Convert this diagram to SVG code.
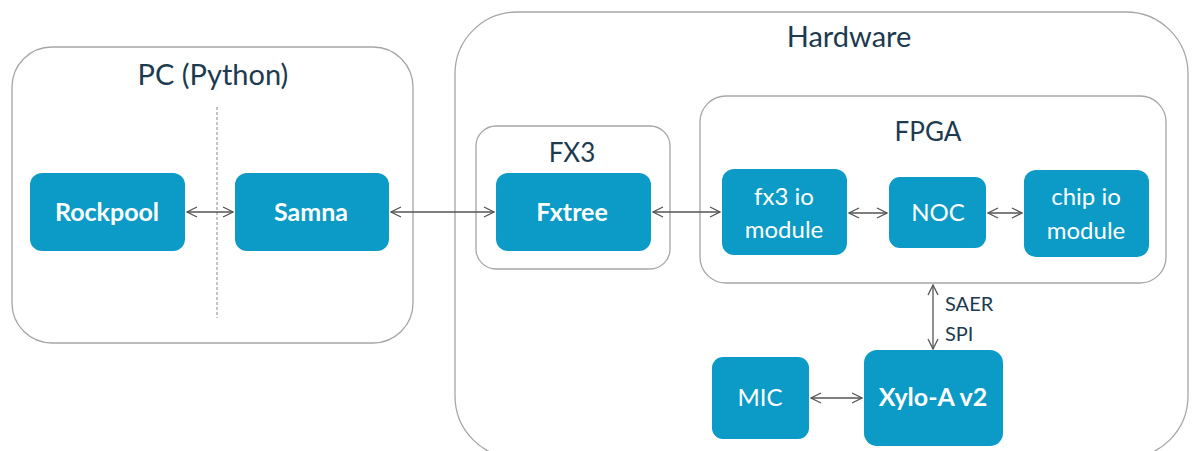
<svg xmlns="http://www.w3.org/2000/svg" width="1192" height="451" viewBox="0 0 1192 451">
<defs>
<style>
.cont{fill:#fff;stroke:#a6a6a6;stroke-width:1.3}
.blk{fill:#0b9bc6}
.title{font-family:Lato,"Liberation Sans",sans-serif;font-size:29px;fill:#1d3b4f;text-anchor:middle}
.sub{font-family:Lato,"Liberation Sans",sans-serif;font-size:26px;fill:#1d3b4f;text-anchor:middle}
.bt{font-family:Lato,"Liberation Sans",sans-serif;font-size:25px;font-weight:bold;fill:#fff;text-anchor:middle}
.nt{font-family:Lato,"Liberation Sans",sans-serif;font-size:24px;fill:#fff;text-anchor:middle}
.lbl{font-family:Lato,"Liberation Sans",sans-serif;font-size:20px;fill:#1d3b4f}
.conn{stroke:#555;stroke-width:1.3;fill:none;marker-start:url(#ah);marker-end:url(#ah)}
</style>
<marker id="ah" viewBox="0 0 12 12" refX="11" refY="6" markerWidth="12" markerHeight="12" markerUnits="userSpaceOnUse" orient="auto-start-reverse">
<path d="M1,1 L11,6 L1,11" fill="none" stroke="#555" stroke-width="1.3"/>
</marker>
</defs>
<g id="pc">
<rect class="cont" x="12" y="47" width="401" height="296" rx="40"/>
<text class="title" x="213" y="85">PC (Python)</text>
<line x1="217" y1="107" x2="217" y2="318" stroke="#888" stroke-width="1" stroke-dasharray="3,2"/>
</g>
<g id="hardware">
<rect class="cont" x="455" y="12" width="733" height="446" rx="62"/>
<text class="title" x="849" y="47">Hardware</text>
</g>
<g id="fx3">
<rect class="cont" x="476" y="126" width="194" height="143" rx="20"/>
<text class="sub" x="572" y="162">FX3</text>
</g>
<g id="fpga">
<rect class="cont" x="700" y="96" width="466" height="187" rx="26"/>
<text class="sub" x="928" y="141">FPGA</text>
</g>
<g id="rockpool">
<rect class="blk" x="30" y="173" width="155" height="78" rx="12"/>
<text class="bt" x="107" y="221">Rockpool</text>
</g>
<g id="samna">
<rect class="blk" x="235" y="173" width="154" height="78" rx="12"/>
<text class="bt" x="311" y="221">Samna</text>
</g>
<g id="fxtree">
<rect class="blk" x="496" y="173" width="155" height="78" rx="12"/>
<text class="bt" x="572" y="221">Fxtree</text>
</g>
<g id="fx3io">
<rect class="blk" x="722" y="169" width="125" height="86" rx="12"/>
<text class="nt" x="784" y="205">fx3 io</text>
<text class="nt" x="784" y="238">module</text>
</g>
<g id="noc">
<rect class="blk" x="889" y="177" width="97" height="71" rx="11"/>
<text class="nt" x="938" y="221">NOC</text>
</g>
<g id="chipio">
<rect class="blk" x="1024" y="170" width="125" height="87" rx="12"/>
<text class="nt" x="1086" y="205">chip io</text>
<text class="nt" x="1086" y="239">module</text>
</g>
<g id="mic">
<rect class="blk" x="712" y="357" width="97" height="82" rx="11"/>
<text class="nt" x="760" y="406">MIC</text>
</g>
<g id="xylo">
<rect class="blk" x="864" y="350" width="139" height="96" rx="13"/>
<text class="bt" x="933" y="406">Xylo-A v2</text>
</g>
<g id="connectors">
<line class="conn" x1="187" y1="212" x2="233" y2="212"/>
<line class="conn" x1="391" y1="212" x2="494" y2="212"/>
<line class="conn" x1="653" y1="212" x2="720" y2="212"/>
<line class="conn" x1="849" y1="213" x2="887" y2="213"/>
<line class="conn" x1="988" y1="213" x2="1022" y2="213"/>
<line class="conn" x1="933" y1="285" x2="933" y2="349"/>
<line class="conn" x1="811" y1="398" x2="862" y2="398"/>
<text class="lbl" x="945" y="311">SAER</text>
<text class="lbl" x="945" y="341">SPI</text>
</g>
</svg>
